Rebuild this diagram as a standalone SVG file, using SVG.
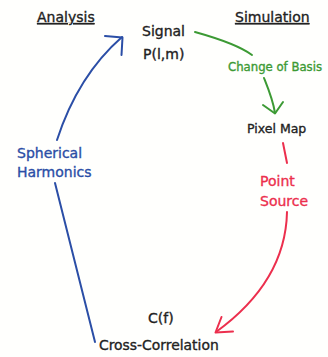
<svg xmlns="http://www.w3.org/2000/svg" width="328" height="357" viewBox="0 0 328 357">
<style>
text{font-family:"DejaVu Sans","Liberation Sans",sans-serif;font-size:14px;fill:#222;stroke:#222;stroke-width:0.35}
.h{text-decoration:underline}
.c{fill:none;stroke-width:2;stroke-linecap:round;stroke-linejoin:round}
.b{stroke:#2b4ea6}.g{stroke:#3c9a34}.r{stroke:#ec2f4d}
text.tb{fill:#2b4ea6;stroke:#2b4ea6}
text.tg{fill:#3c9a34;stroke:#3c9a34;font-size:11.7px}
text.tr{fill:#ec2f4d;stroke:#ec2f4d}
</style>
<rect width="328" height="357" fill="#fffffd"/>
<g id="connectors">
<path class="c b" d="M57,140 C70,100 90,65 122,37"/>
<path class="c b" d="M105,36 L122.5,37.5 L121.5,55"/>
<path class="c b" d="M55,183 L95,342"/>
<path class="c g" d="M195,32 C220,39 240,46 252,55"/>
<path class="c g" d="M264,78 C268,88 273,100 275,113"/>
<path class="c g" d="M263,105 L275,113.5 L283,102"/>
<path class="c r" d="M283,143 L287,163"/>
<path class="c r" d="M287,212 C286,260 260,300 216,332"/>
<path class="c r" d="M221.5,317 L215.5,332.5 L233,331.5"/>
</g>
<g id="analysis"><text x="37" y="22" class="h">Analysis</text></g>
<g id="simulation"><text x="235" y="22" class="h">Simulation</text></g>
<g id="signal"><text x="142" y="36">Signal</text><text x="143" y="59">P(l,m)</text></g>
<g id="change"><text x="228" y="71" class="tg">Change of Basis</text></g>
<g id="pixelmap"><text x="247" y="133" style="font-size:12.5px">Pixel Map</text></g>
<g id="spherical"><text x="17" y="158" class="tb">Spherical</text><text x="17" y="177" class="tb">Harmonics</text></g>
<g id="pointsource"><text x="260" y="186" class="tr">Point</text><text x="260" y="206" class="tr">Source</text></g>
<g id="cf"><text x="148" y="323">C(f)</text></g>
<g id="crosscorr"><text x="99" y="350" style="font-size:13.9px">Cross-Correlation</text></g>
</svg>
